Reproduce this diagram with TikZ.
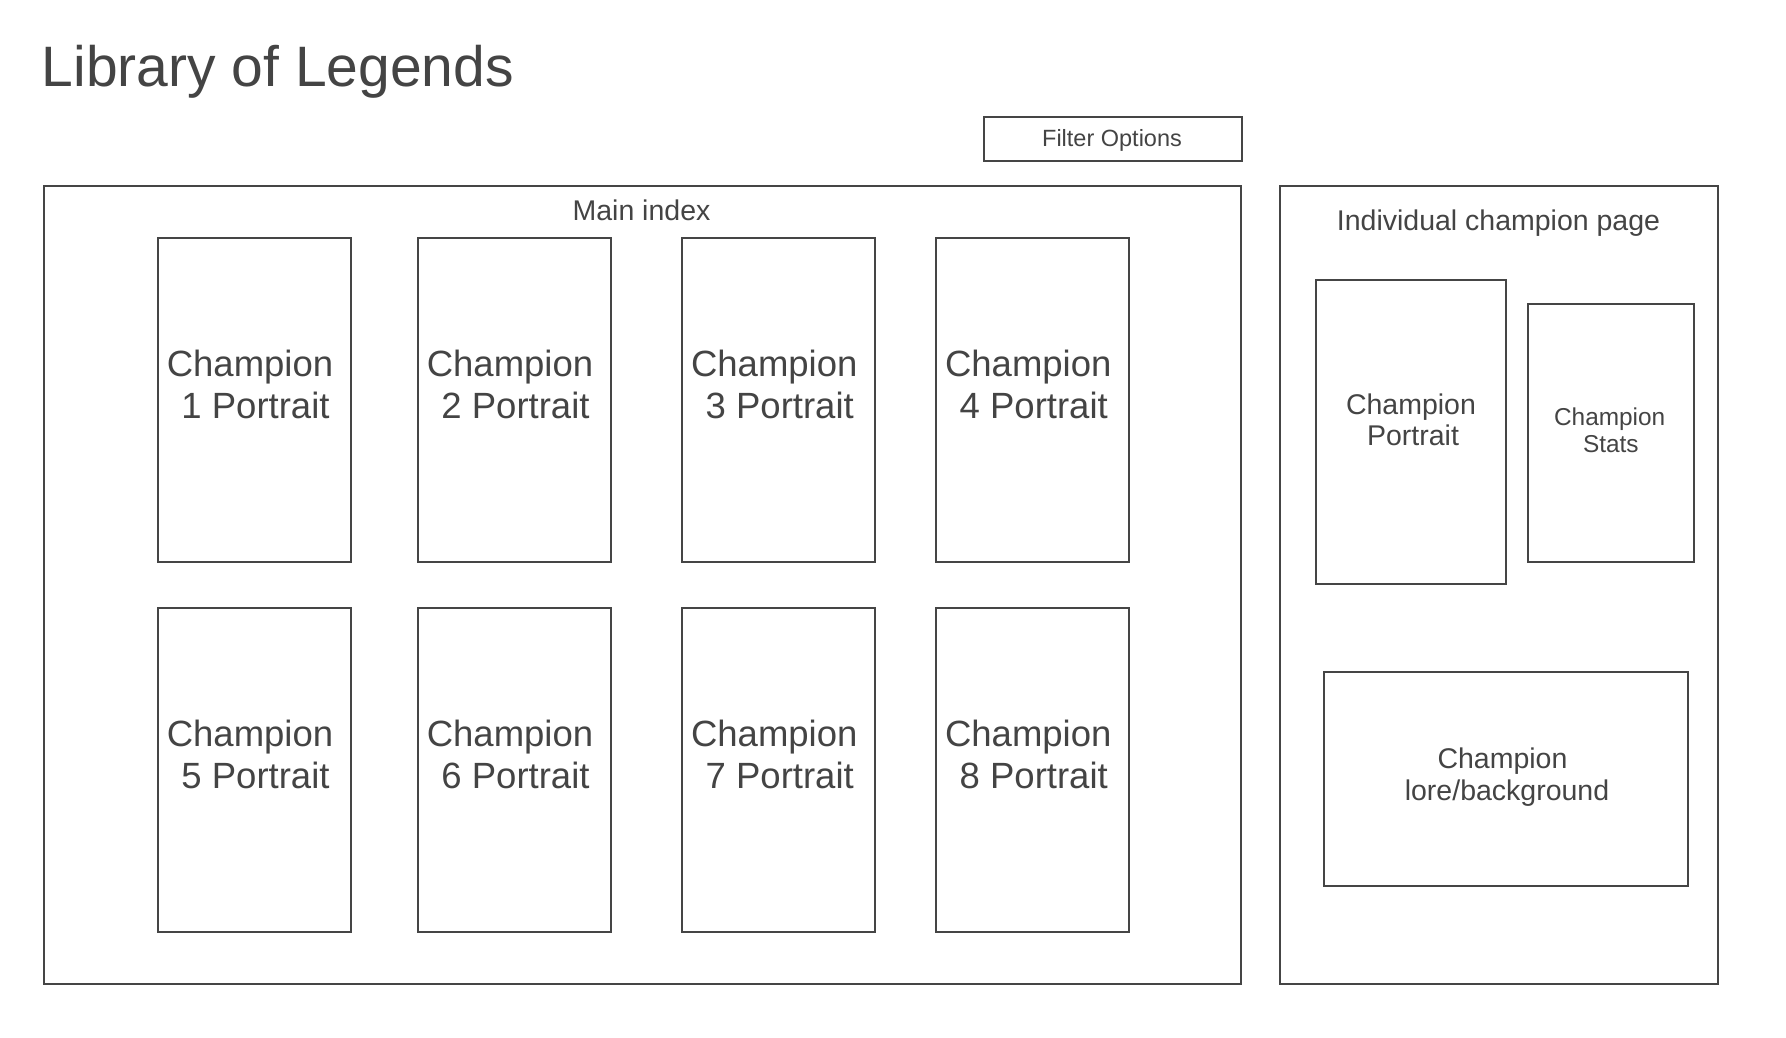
\documentclass[tikz,border=0pt]{standalone}
\usepackage{fontspec}
\setmainfont{Liberation Sans}
\definecolor{ink}{HTML}{444444}
\definecolor{edge}{HTML}{454545}
\begin{document}
\begin{tikzpicture}[x=1pt,y=-1pt,
  box/.style={draw=edge, line width=2pt, inner sep=0pt, fill=white},
  txt/.style={text=ink, inner sep=0pt, anchor=base},
  big/.style={font=\fontsize{36.5}{40}\selectfont},
  mid/.style={font=\fontsize{28.5}{32}\selectfont},
  sml/.style={font=\fontsize{24.4}{28}\selectfont},
  tiny/.style={font=\fontsize{23.5}{26}\selectfont},
  ttl/.style={font=\fontsize{57}{64}\selectfont}]
\fill[white] (0,0) rectangle (1786,1038);
\useasboundingbox (0,0) rectangle (1786,1038);

% title
\node[txt, ttl, anchor=base west] (title) at (41.5,87) {Library of Legends};

% filter options
\node[box, anchor=north west, minimum width=258pt, minimum height=44pt] (filter) at (983,116) {};
\node[txt, tiny] (filtert) at (1112,147) {Filter Options};

% main index
\node[box, anchor=north west, minimum width=1197pt, minimum height=798pt] (main) at (43,184.5) {};
\node[txt, mid] (maint) at (641.5,220) {Main index};

\foreach \i/\cx/\tp/\ba in {1/254.5/236.5/376, 2/514.5/236.5/376, 3/778.75/236.5/376, 4/1032.75/236.5/376,
                           5/254.5/606.5/746, 6/514.5/606.5/746, 7/778.75/606.5/746, 8/1032.75/606.5/746}{
  \node[box, anchor=north, minimum width=193pt, minimum height=324pt] (p\i) at (\cx,\tp) {};
  \node[txt, big] (p\i a) at (\cx-4.5,\ba) {Champion};
  \node[txt, big] (p\i b) at (\cx+1,\ba+42.3) {\i\ Portrait};
}

% individual champion page
\node[box, anchor=north west, minimum width=438pt, minimum height=798pt] (page) at (1279,184.5) {};
\node[txt, mid] (paget) at (1498.5,230.7) {Individual champion page};

\node[box, anchor=north west, minimum width=190pt, minimum height=304pt] (portrait) at (1315,278.5) {};
\node[txt, mid] (portraita) at (1411,414.3) {Champion};
\node[txt, mid] (portraitb) at (1413,445.7) {Portrait};

\node[box, anchor=north west, minimum width=166pt, minimum height=258pt] (stats) at (1527,302.5) {};
\node[txt, sml] (statsa) at (1609.7,425) {Champion};
\node[txt, sml] (statsb) at (1610.8,452.7) {Stats};

\node[box, anchor=north west, minimum width=364pt, minimum height=214pt] (lore) at (1323,670.5) {};
\node[txt, mid] (lorea) at (1502.5,768.3) {Champion};
\node[txt, mid] (loreb) at (1507,800) {lore/background};
\end{tikzpicture}
\end{document}
